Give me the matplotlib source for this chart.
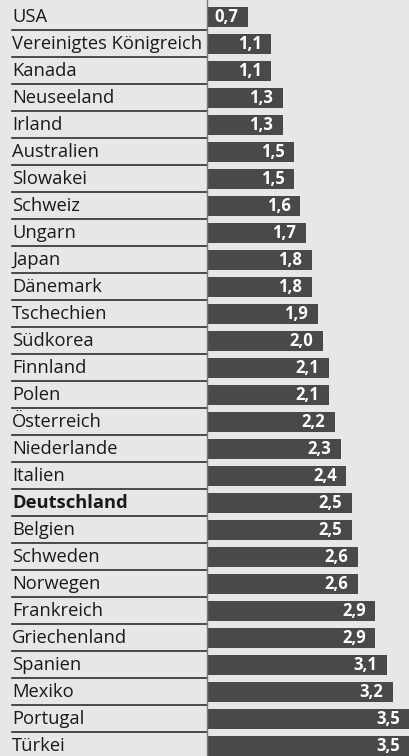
import matplotlib.pyplot as plt
from matplotlib import transforms

countries = ["USA", "Vereinigtes Königreich", "Kanada", "Neuseeland", "Irland",
             "Australien", "Slowakei", "Schweiz", "Ungarn", "Japan", "Dänemark",
             "Tschechien", "Südkorea", "Finnland", "Polen", "Österreich",
             "Niederlande", "Italien", "Deutschland", "Belgien", "Schweden",
             "Norwegen", "Frankreich", "Griechenland", "Spanien", "Mexiko",
             "Portugal", "Türkei"]
values = [0.7, 1.1, 1.1, 1.3, 1.3, 1.5, 1.5, 1.6, 1.7, 1.8, 1.8, 1.9, 2.0, 2.1,
          2.1, 2.2, 2.3, 2.4, 2.5, 2.5, 2.6, 2.6, 2.9, 2.9, 3.1, 3.2, 3.5, 3.5]
highlight = "Deutschland"

W, H = 410, 756
bg = "#e6e7e8"
bar_color = "#48494b"

plt.rcParams["font.family"] = ["Open Sans", "DejaVu Sans"]

fig = plt.figure(figsize=(W / 100, H / 100), dpi=100, facecolor=bg)
x0 = 207.5 / W
ax = fig.add_axes([x0, 0, 1 - x0, 1])
ax.set_facecolor(bg)
ax.set_xlim(0, (W - 207.5) / 57.9)
n = len(countries)
ax.set_ylim(n, 0)
ax.axis("off")

pos = [i + 17 / 27 for i in range(n)]
ax.barh(pos, values, height=20 / 27, color=bar_color, linewidth=0)

for p, v in zip(pos, values):
    ax.annotate(f"{v:.1f}".replace(".", ","), (v, p), xytext=(-7, 0),
                textcoords="offset points", ha="right", va="center",
                color="white", fontsize=12, fontweight="bold")

lbl = transforms.blended_transform_factory(fig.transFigure, ax.transData)
for i, (c, p) in enumerate(zip(countries, pos)):
    ax.text(12 / W, p, c, transform=lbl, ha="left", va="center",
            fontsize=13.2, color="#1a1a1a",
            fontweight="bold" if c == highlight else "normal", clip_on=False)
    if i < n - 1:
        ax.plot([12 / W, x0], [i + 1.11, i + 1.11], transform=lbl,
                color="#2e2e2e", linewidth=1.2, clip_on=False)

ax.axvline(0, color="#7a7a7a", linewidth=1.0, clip_on=False)

fig.savefig("out.png", dpi=100, facecolor=bg)
